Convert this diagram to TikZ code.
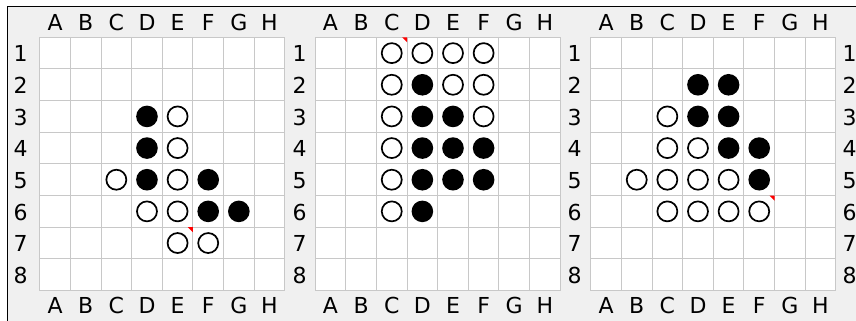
\documentclass[tikz,border=0pt]{standalone}
\usepackage{fontspec}
\setmainfont{DejaVu Sans}
\definecolor{bgc}{HTML}{F0F0F0}
\definecolor{gridc}{HTML}{C8C8C8}
\newcommand\cw{30.62}
\newcommand\ch{31.65}
\newcommand\gy{37.3}
\newcommand\myboard[3]{%
  \fill[white] (#1,\gy) rectangle ++(8*\cw,8*\ch);
  \foreach \i in {0,...,8} {
    \draw[gridline] (#1+\i*\cw,\gy) -- ++(0,8*\ch);
    \draw[gridline] (#1,\gy+\i*\ch) -- ++(8*\cw,0);
  }
  \foreach \c [count=\k from 1] in {A,B,C,D,E,F,G,H} {
    \node[lbl] (#2top\c) at (#1+\k*\cw-0.5*\cw,22.5) {\c};
    \node[lbl] (#2bot\c) at (#1+\k*\cw-0.5*\cw,305.5) {\c};
  }
  \foreach \c/\r/\s in {#3} {
    \node[\s] (#2s\c-\r) at (#1+\c*\cw-0.5*\cw,\gy+\r*\ch-0.5*\ch) {};
  }
}
\newcommand\mymark[3]{%
  \fill[red] (#1+#2*\cw-5,\gy+#3*\ch-\ch) -- (#1+#2*\cw,\gy+#3*\ch-\ch) -- (#1+#2*\cw,\gy+#3*\ch-\ch+5) -- cycle;
}
\begin{document}
\begin{tikzpicture}[x=1pt,y=-1pt,
  lbl/.style={font=\fontsize{22}{22}\selectfont, inner sep=0pt, anchor=center},
  bst/.style={circle, fill=black, minimum size=21.6pt, inner sep=0pt},
  wst/.style={circle, draw=black, line width=1.7pt, fill=white, minimum size=20pt, inner sep=0pt},
  gridline/.style={draw=gridc, line width=1pt}]
\useasboundingbox (0,0) rectangle (856,321);
\fill[white] (0,0) rectangle (856,321);
\fill[bgc] (7.5,6.5) rectangle (856,321);
\draw[black, line width=1pt] (7.5,321) -- (7.5,6.5) -- (856,6.5);
% board 1
\myboard{39.8}{p}{4/3/bst,5/3/wst,4/4/bst,5/4/wst,3/5/wst,4/5/bst,5/5/wst,6/5/bst,4/6/wst,5/6/wst,6/6/bst,7/6/bst,5/7/wst,6/7/wst}
\mymark{39.8}{5}{7}
% board 2
\myboard{315.2}{q}{3/1/wst,4/1/wst,5/1/wst,6/1/wst,3/2/wst,4/2/bst,5/2/wst,6/2/wst,3/3/wst,4/3/bst,5/3/bst,6/3/wst,3/4/wst,4/4/bst,5/4/bst,6/4/bst,3/5/wst,4/5/bst,5/5/bst,6/5/bst,3/6/wst,4/6/bst}
\mymark{315.2}{3}{1}
% board 3
\myboard{590.8}{r}{4/2/bst,5/2/bst,3/3/wst,4/3/bst,5/3/bst,3/4/wst,4/4/wst,5/4/bst,6/4/bst,2/5/wst,3/5/wst,4/5/wst,5/5/wst,6/5/bst,3/6/wst,4/6/wst,5/6/wst,6/6/wst}
\mymark{590.8}{6}{6}
% row labels
\foreach \r in {1,...,8} {
  \node[lbl] (la\r) at (20.5,\gy+\r*\ch-0.5*\ch+0.8) {\r};
  \node[lbl] (lb\r) at (299.5,\gy+\r*\ch-0.5*\ch+0.8) {\r};
  \node[lbl] (lc\r) at (574.5,\gy+\r*\ch-0.5*\ch+0.8) {\r};
  \node[lbl] (ld\r) at (849.5,\gy+\r*\ch-0.5*\ch+0.8) {\r};
}
\end{tikzpicture}
\end{document}
